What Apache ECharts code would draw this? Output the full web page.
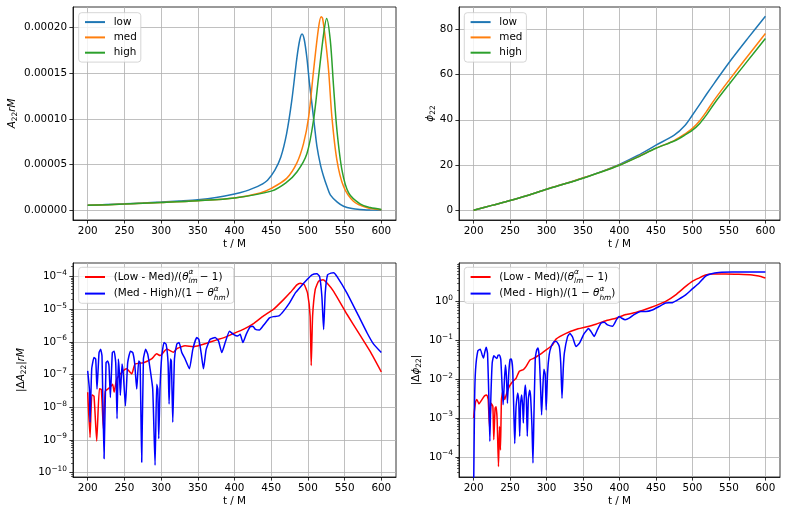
<!DOCTYPE html>
<html style="height: 100%">

<head>
  <meta charset="utf-8">
</head>

<body style="height: 100%; margin: 0; background: #fff">
  <div id="container" style="width: 789px; height: 516px"></div>
  <script type="text/javascript" src="https://cdn.jsdelivr.net/npm/echarts@6/dist/echarts.min.js"></script>
  <script type="text/javascript">
    // ---- tick labels ----
    var xTicks = [200, 250, 300, 350, 400, 450, 500, 550, 600];
    var ampTicks = [0, 5, 10, 15, 20];          // units of 1e-5
    var phiTicks = [0, 20, 40, 60, 80];
    var dAmpTicks = [-10, -9, -8, -7, -6, -5, -4]; // decades
    var dPhiTicks = [-4, -3, -2, -1, 0];

    // ---- amplitude A22 rM (units of 1e-5) ----
    var ampLowT = [200, 225, 250, 275, 300, 325, 350, 375, 400, 415, 425, 435, 445, 455, 463, 471, 478, 485, 489, 492, 495, 498.6, 502, 505.4, 509, 512.3, 517, 521.4, 526, 530.5, 540, 548.6, 560, 571, 585, 600];
    var ampLow = [0.55, 0.63, 0.72, 0.8, 0.9, 1.02, 1.16, 1.4, 1.78, 2.1, 2.4, 2.75, 3.3, 4.4, 5.8, 8.4, 12.0, 16.7, 18.7, 19.3, 18.7, 16.7, 14.0, 11.7, 9.2, 7.0, 5.0, 3.7, 2.6, 1.7, 0.9, 0.45, 0.2, 0.1, 0.04, 0.0];
    var ampMedT = [200, 250, 300, 350, 400, 435, 450, 471, 485, 494, 501, 507.7, 514.5, 518, 520, 523.6, 528.2, 532.7, 539.5, 548.6, 562, 580, 600];
    var ampMed = [0.55, 0.68, 0.85, 1.05, 1.35, 1.9, 2.4, 3.5, 5.2, 7.3, 10.2, 15.3, 20.0, 21.2, 21.0, 18.9, 15.3, 10.2, 5.5, 2.6, 1.0, 0.3, 0.05];
    var ampHighT = [200, 250, 300, 350, 400, 450, 470, 485, 498.6, 507.7, 514.5, 521.4, 525.5, 530.5, 535, 539.5, 546.4, 555.5, 571, 585, 600];
    var ampHigh = [0.55, 0.68, 0.85, 1.05, 1.35, 2.1, 3.0, 4.2, 6.2, 9.9, 14.6, 19.3, 21.0, 18.6, 13.5, 8.8, 4.4, 1.9, 0.7, 0.3, 0.1];

    // ---- phase phi22 ----
    var phiT = [200, 225, 250, 275, 300, 325, 350, 375, 400, 425, 450, 475, 490, 500, 510, 520, 530, 550, 575, 600];
    var phiLow = [0, 2.2, 4.3, 6.7, 9.3, 11.7, 14.3, 17.1, 20.3, 24.2, 28.8, 33.2, 37.6, 42.1, 46.8, 51.6, 56.2, 65.2, 75.6, 85.7];
    var phiMed = [0, 2.2, 4.3, 6.7, 9.3, 11.7, 14.3, 17.0, 20.0, 23.6, 27.5, 30.8, 33.8, 36.2, 39.6, 44.0, 48.8, 57.4, 67.8, 78.1];
    var phiHigh = [0, 2.2, 4.3, 6.7, 9.3, 11.7, 14.2, 16.9, 19.9, 23.5, 27.4, 30.6, 33.3, 35.4, 38.4, 42.5, 47.2, 55.6, 65.8, 75.9];

    // ---- |dA22| rM ----
    var dAmpLmT = [200, 203.2, 205.7, 208.6, 212.3, 215.9, 218.6, 221.4, 224, 230.5, 234, 236, 239.5, 248.6, 253, 260, 264.5, 276, 287, 294, 298.6, 307.7, 316.8, 322, 332.7, 344, 353, 362, 375.9, 389.5, 398.6, 412, 425.9, 439.5, 453, 466.8, 475.9, 485, 489.5, 495, 499.5, 503, 504.5, 506.4, 510, 514.5, 520.5, 526, 535, 553, 571, 585, 600];
    var dAmpLm = [2.9e-8, 1.2e-9, 2.4e-8, 2.2e-8, 9.3e-10, 3.7e-8, 3.5e-8, 2.2e-9, 3.1e-8, 4.1e-8, 5.1e-8, 2.9e-8, 7.2e-8, 1.3e-7, 1.5e-7, 1.05e-7, 2.1e-7, 2.3e-7, 3.0e-7, 4.3e-7, 3.8e-7, 6.0e-7, 4.8e-7, 6.3e-7, 7.6e-7, 7.1e-7, 7.9e-7, 9.1e-7, 1.15e-6, 1.45e-6, 1.8e-6, 2.4e-6, 3.6e-6, 6.2e-6, 9.8e-6, 1.95e-5, 3.2e-5, 5.5e-5, 6.2e-5, 5.6e-5, 3.1e-5, 6.2e-6, 1.9e-7, 6.2e-6, 4.0e-5, 7.1e-5, 7.9e-5, 6.3e-5, 3.5e-5, 7.1e-6, 1.6e-6, 5.0e-7, 1.2e-7];
    var dAmpHmT = [200, 202.3, 203.2, 205.5, 208.6, 210.9, 212.7, 215.5, 217.7, 219.5, 222.3, 225, 227.3, 229, 230.9, 233.6, 236, 238.2, 240, 241.8, 243.2, 244.5, 246.8, 248.6, 251.4, 254.5, 258.2, 261.4, 264.1, 266.8, 269.5, 271.4, 273.6, 275.9, 279, 281.8, 285, 288.6, 291.8, 294, 295.5, 296.8, 298.5, 300.9, 304, 306.8, 309.5, 310.9, 312.7, 314, 315.9, 318.2, 321.4, 324.5, 328.2, 332.7, 338.6, 343.2, 348.6, 351.4, 354.5, 357.7, 361.4, 366.8, 373.6, 378.2, 382.7, 387.3, 393.2, 398.6, 404, 407.7, 411.4, 415.9, 421.4, 425, 428.6, 434, 439.5, 447.7, 453, 460.5, 466.8, 475, 482.7, 489.5, 498.6, 505.5, 512.3, 515.9, 519, 521.4, 523.6, 526.8, 531.4, 535, 539.5, 553.2, 566.8, 580.5, 589.5, 600];
    var dAmpHm = [1.3e-7, 3.6e-8, 3.5e-9, 1.5e-7, 3.3e-7, 3.0e-7, 3.6e-8, 4.7e-7, 5.9e-7, 3.7e-7, 2.7e-10, 2.3e-7, 2.6e-7, 1.9e-7, 2.0e-8, 4.7e-7, 5.2e-7, 2.3e-7, 4.5e-9, 3.0e-7, 1.15e-7, 2.3e-8, 2.1e-7, 1.0e-7, 1.1e-8, 2.3e-7, 5.2e-7, 4.7e-7, 2.1e-7, 3.6e-8, 2.6e-7, 2.3e-7, 2.1e-10, 3.0e-7, 5.9e-7, 4.2e-7, 1.5e-7, 3.6e-8, 1.7e-10, 5.1e-8, 3.6e-8, 1.1e-9, 3.6e-8, 3.7e-7, 9.5e-7, 8.5e-7, 2.3e-7, 1.26e-8, 3.0e-7, 2.6e-7, 3.5e-9, 3.0e-7, 8.5e-7, 9.5e-7, 4.7e-7, 3.0e-7, 1.5e-7, 5.9e-7, 1.35e-6, 1.2e-6, 4.7e-7, 1.5e-7, 5.9e-7, 1.2e-6, 1.35e-6, 1.07e-6, 4.7e-7, 9.5e-7, 2.1e-6, 1.7e-6, 1.5e-6, 1.7e-6, 9.5e-7, 1.7e-6, 2.9e-6, 3.0e-6, 2.4e-6, 2.3e-6, 3.2e-6, 5.4e-6, 5.9e-6, 6.2e-6, 8.7e-6, 1.55e-5, 3.1e-5, 4.7e-5, 7.9e-5, 1.12e-4, 1.2e-4, 1.0e-4, 2.5e-5, 2.4e-6, 3.1e-5, 1.12e-4, 1.26e-4, 1.3e-4, 1.0e-4, 3.1e-5, 7.8e-6, 1.9e-6, 8.5e-7, 4.7e-7];

    // ---- |dphi22| ----
    var dPhiLmT = [200, 202.7, 204.5, 207.3, 210.5, 215, 218.2, 220, 221.8, 224.1, 226.4, 227.7, 229.5, 230.9, 232.3, 234.1, 235.5, 236.8, 238.2, 240, 242.7, 245.5, 249, 253.6, 258.2, 262.7, 268.2, 271.8, 277.3, 283.2, 290, 299, 308.2, 313, 326.7, 340.3, 354, 367.7, 381.3, 395, 408.7, 422.3, 436, 449.7, 463.3, 477, 490.7, 499.8, 508.9, 518, 527.1, 545.3, 563.6, 581.8, 590.9, 600];
    var dPhiLm = [1.0e-3, 2.6e-3, 3.0e-3, 2.3e-3, 2.8e-3, 3.7e-3, 3.9e-3, 3.0e-3, 6.0e-4, 2.4e-3, 2.0e-3, 2.75e-4, 1.8e-3, 1.95e-3, 8.9e-4, 5.6e-5, 6.0e-4, 1.5e-4, 3.0e-3, 4.8e-3, 3.0e-3, 4.4e-3, 6.5e-3, 8.7e-3, 1.05e-2, 1.6e-2, 1.75e-2, 2.1e-2, 3.1e-2, 3.5e-2, 4.2e-2, 5.6e-2, 7.6e-2, 0.107, 0.15, 0.19, 0.22, 0.26, 0.32, 0.37, 0.46, 0.52, 0.63, 0.78, 1.0, 1.48, 2.45, 3.3, 4.0, 4.8, 5.1, 5.1, 5.0, 4.8, 4.5, 4.0];
    var dPhiHmT = [200, 201.4, 202.7, 205.9, 209.1, 211.8, 213.6, 215.5, 217.3, 219.1, 221, 222.3, 223.6, 225.5, 227.7, 229.5, 231.8, 233.6, 235.5, 237.3, 239.1, 240.5, 242.3, 243.6, 245, 246.4, 248.2, 250, 251.8, 253.6, 255, 256.4, 258.2, 260.5, 261.8, 263.2, 264.5, 265.9, 267.3, 268.2, 269.5, 270.9, 272.3, 273.6, 275, 276.8, 278.2, 280, 281.4, 282.7, 284.5, 286.4, 288.2, 290, 291.8, 293.2, 295, 296.4, 298.2, 299.5, 301.4, 303.6, 306.4, 310.5, 313.6, 317.5, 319.5, 321.2, 323, 324.4, 328.9, 332.1, 335.8, 340.3, 344.9, 351.7, 357.6, 360.8, 365.4, 369.9, 374.5, 379, 383.6, 390.4, 395.9, 399.5, 403.2, 407.7, 413.2, 420, 429.2, 436, 445, 454.2, 463.3, 472.4, 481.5, 490.7, 499.8, 508.9, 518, 524.8, 536.2, 554.4, 577.2, 600];
    var dPhiHm = [1.0e-5, 3.0e-3, 1.75e-2, 5.4e-2, 5.9e-2, 4.2e-2, 3.5e-2, 5.1e-2, 6.6e-2, 4.6e-2, 3.0e-3, 2.5e-4, 3.0e-3, 2.6e-2, 4.0e-2, 3.7e-2, 3.4e-2, 4.1e-2, 4.2e-2, 3.2e-2, 6.5e-3, 2.2e-3, 9.5e-3, 2.3e-2, 1.2e-2, 2.4e-3, 1.4e-2, 3.2e-2, 3.3e-2, 1.75e-2, 1.95e-3, 2.2e-4, 1.95e-3, 4.4e-3, 3.0e-3, 3.4e-4, 2.5e-3, 3.9e-3, 1.95e-3, 7.4e-4, 3.5e-3, 7.1e-3, 3.0e-3, 3.4e-4, 3.0e-3, 5.2e-3, 3.5e-3, 6.0e-4, 6.9e-5, 1.1e-3, 3.2e-2, 5.6e-2, 6.3e-2, 3.8e-2, 6.5e-3, 1.2e-3, 6.5e-3, 1.8e-2, 1.3e-2, 1.6e-3, 1.45e-2, 4.2e-2, 6.9e-2, 9.3e-2, 9.3e-2, 6.9e-2, 2.5e-2, 3.2e-3, 2.0e-2, 4.7e-2, 0.126, 0.15, 0.12, 6.9e-2, 8.3e-2, 0.15, 0.20, 0.17, 0.126, 0.19, 0.275, 0.29, 0.25, 0.23, 0.34, 0.41, 0.37, 0.34, 0.37, 0.46, 0.55, 0.55, 0.60, 0.74, 0.91, 0.93, 1.15, 1.48, 2.1, 2.95, 4.5, 5.1, 5.6, 5.75, 5.75, 5.75];

    var FONT = 'DejaVu Sans';
    var FS = 10.4;
    var GRID_C = '#b0b0b0';

    function pts(ts, vs) {
      return ts.map(function (t, i) { return [t, vs[i]]; });
    }
    // the log panels use a value axis holding log10 of the value
    function logPts(ts, vs) {
      return ts.map(function (t, i) { return [t, Math.log10(vs[i])]; });
    }

    var minorPos = [];
    for (var n = -11; n <= 1; n++) {
      for (var k = 2; k <= 9; k++) minorPos.push(n + Math.log10(k));
    }

    var lineStyleAx = { color: '#000', width: 0.8 };
    var supRich = {
      sup: { fontSize: 7.4, fontFamily: FONT, color: '#000', verticalAlign: 'top', lineHeight: 8 }
    };

    function xAxis(gi) {
      return {
        type: 'value', gridIndex: gi, min: 180, max: 620,
        name: 't / M', nameLocation: 'middle', nameGap: 19, nameMoveOverlap: false,
        nameTextStyle: { fontFamily: FONT, fontSize: FS, color: '#000' },
        axisLine: { show: true, onZero: false, lineStyle: lineStyleAx },
        axisTick: { show: true, customValues: xTicks, length: 3.6, lineStyle: lineStyleAx },
        axisLabel: { customValues: xTicks, margin: 6, fontFamily: FONT, fontSize: FS, color: '#000' },
        splitLine: { show: true, lineStyle: { color: GRID_C, width: 0.8 } }
      };
    }

    function yAxis(gi, min, max, ticks, fmt, name, gap, rich) {
      return {
        type: 'value', gridIndex: gi, min: min, max: max,
        name: name, nameLocation: 'middle', nameRotate: 90, nameGap: gap, nameMoveOverlap: false,
        nameTextStyle: { fontFamily: FONT, fontSize: FS, color: '#000', lineHeight: 14, rich: rich },
        axisLine: { show: true, onZero: false, lineStyle: lineStyleAx },
        axisTick: { show: true, customValues: ticks, length: 3.6, lineStyle: lineStyleAx },
        axisLabel: {
          customValues: ticks, margin: 6, fontFamily: FONT, fontSize: FS, color: '#000',
          lineHeight: 14, formatter: fmt, rich: supRich
        },
        splitLine: { show: true, lineStyle: { color: GRID_C, width: 0.8 } }
      };
    }

    function minorAxis(gi, min, max) {
      return {
        type: 'value', gridIndex: gi, min: min, max: max, position: 'left',
        axisLine: { show: false, onZero: false },
        axisTick: { show: true, customValues: minorPos, length: 2, lineStyle: { color: '#000', width: 0.6 } },
        axisLabel: { show: false },
        splitLine: { show: false }
      };
    }

    function decadeFmt(v) {
      var e = Math.round(v);
      return '10{sup|' + (e < 0 ? '\u2212' + (-e) : e) + '}';
    }

    var nameRich = {
      i: { fontFamily: FONT, fontSize: FS, fontStyle: 'italic', color: '#000', lineHeight: 14 },
      n: { fontFamily: FONT, fontSize: FS, color: '#000', lineHeight: 14 },
      s: { fontFamily: FONT, fontSize: 7.4, color: '#000', verticalAlign: 'bottom', lineHeight: 9 }
    };

    var legRich = {
      n: { fontFamily: FONT, fontSize: FS, color: '#000', lineHeight: 16 },
      th: { fontFamily: FONT, fontSize: FS, fontStyle: 'italic', color: '#000', lineHeight: 16 },
      sp: { fontFamily: FONT, fontSize: 7.4, fontStyle: 'italic', color: '#000', verticalAlign: 'top', lineHeight: 9, width: 0 },
      sb: { fontFamily: FONT, fontSize: 7.4, fontStyle: 'italic', color: '#000', verticalAlign: 'bottom', lineHeight: 9 }
    };
    var legLabels = {
      lm: '{n|(Low - Med)/(}{th|\u03b8}{sp|\u03b1}{sb|lm}{n|\u2009\u2212 1)}',
      hm: '{n|(Med - High)/(1 \u2212 }{th|\u03b8}{sp|\u03b1}{sb|hm}{n|)}'
    };

    // the line-series legend icon carries a marker; hide it so only the stroke shows
    var legItemStyle = { opacity: 0 };

    function topLegend(left, names) {
      return {
        left: left, top: 12.7, orient: 'vertical', data: names,
        itemWidth: 20, itemHeight: 12, itemGap: 3.3,
        padding: [3.4, 4, 3.4, 5.3], itemStyle: legItemStyle,
        backgroundColor: 'rgba(255,255,255,0.8)', borderColor: '#cccccc', borderWidth: 0.8, borderRadius: 3,
        textStyle: { fontFamily: FONT, fontSize: FS, color: '#000', lineHeight: 12, padding: [0, 0, 0, 3.7] }
      };
    }
    function botLegend(left, top) {
      return {
        left: left, top: top, orient: 'vertical', data: ['lm', 'hm'],
        itemWidth: 20, itemHeight: 12, itemGap: 0.6,
        padding: [1.7, 4, 1.7, 5.3], itemStyle: legItemStyle,
        backgroundColor: 'rgba(255,255,255,0.8)', borderColor: '#cccccc', borderWidth: 0.8, borderRadius: 3,
        formatter: function (name) { return legLabels[name]; },
        textStyle: { fontFamily: FONT, fontSize: FS, color: '#000', lineHeight: 16, padding: [0, 0, 0, 3.7], rich: legRich }
      };
    }

    function line(name, data, color, xi, yi, smooth) {
      return {
        type: 'line', name: name, data: data, xAxisIndex: xi, yAxisIndex: yi,
        symbol: 'none', showSymbol: false, smooth: smooth, clip: true,
        color: color, lineStyle: { color: color, width: 1.5 }, emphasis: { disabled: true }
      };
    }

    var C_LOW = '#1f77b4', C_MED = '#ff7f0e', C_HIGH = '#2ca02c';

    var dom = document.getElementById('container');
    var myChart = echarts.init(dom, null, { renderer: 'canvas' });

    var option = {
      backgroundColor: '#fff',
      animation: false,
      grid: [
        { left: 73, top: 7, width: 323, height: 213, show: true, borderColor: '#000', borderWidth: 0.8, outerBoundsMode: 'none' },
        { left: 459, top: 7, width: 321, height: 213, show: true, borderColor: '#000', borderWidth: 0.8, outerBoundsMode: 'none' },
        { left: 73, top: 263, width: 323, height: 214, show: true, borderColor: '#000', borderWidth: 0.8, outerBoundsMode: 'none' },
        { left: 459, top: 263, width: 321, height: 214, show: true, borderColor: '#000', borderWidth: 0.8, outerBoundsMode: 'none' }
      ],
      legend: [
        topLegend(78.7, ['low', 'med', 'high']),
        topLegend(464.3, ['low', 'med', 'high']),
        botLegend(78.7, 267.3),
        botLegend(464.3, 267.3)
      ],
      xAxis: [xAxis(0), xAxis(1), xAxis(2), xAxis(3)],
      yAxis: [
        yAxis(0, -1.06, 22.26, ampTicks, function (v) { return (v * 1e-5).toFixed(5); },
          '{i|A}{s|22}{i|rM}', 54, nameRich),
        yAxis(1, -4.27, 89.8, phiTicks, function (v) { return String(v); },
          '{i|\u03d5}{s|22}', 22, nameRich),
        yAxis(2, -10.13, -3.59, dAmpTicks, decadeFmt,
          '{n||\u0394}{i|A}{s|22}{n||}{i|rM}', 45, nameRich),
        yAxis(3, -4.52, 0.99, dPhiTicks, decadeFmt,
          '{n||\u0394}{i|\u03d5}{s|22}{n||}', 36, nameRich),
        minorAxis(2, -10.13, -3.59),
        minorAxis(3, -4.52, 0.99)
      ],
      series: [
        line('low', pts(ampLowT, ampLow), C_LOW, 0, 0, 0.3),
        line('med', pts(ampMedT, ampMed), C_MED, 0, 0, 0.3),
        line('high', pts(ampHighT, ampHigh), C_HIGH, 0, 0, 0.3),
        line('low', pts(phiT, phiLow), C_LOW, 1, 1, 0.3),
        line('med', pts(phiT, phiMed), C_MED, 1, 1, 0.3),
        line('high', pts(phiT, phiHigh), C_HIGH, 1, 1, 0.3),
        line('lm', logPts(dAmpLmT, dAmpLm), '#ff0000', 2, 2, 0.15),
        line('hm', logPts(dAmpHmT, dAmpHm), '#0000ff', 2, 2, 0.15),
        line('lm', logPts(dPhiLmT, dPhiLm), '#ff0000', 3, 3, 0.15),
        line('hm', logPts(dPhiHmT, dPhiHm), '#0000ff', 3, 3, 0.15)
      ]
    };

    if (option && typeof option === "object") {
      myChart.setOption(option, true);
    }
  </script>
</body>

</html>
